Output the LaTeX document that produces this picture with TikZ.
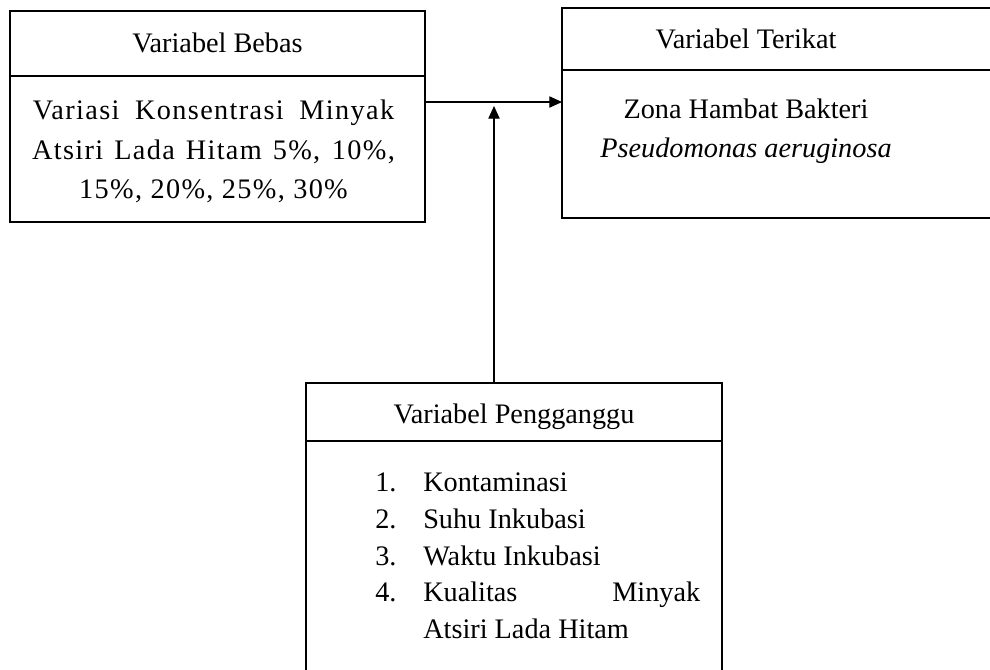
\documentclass[tikz,border=0pt]{standalone}
\usepackage{fontspec}
\setmainfont{Liberation Serif}
\usetikzlibrary{positioning,arrows.meta}

\begin{document}
\begin{tikzpicture}[x=0.75pt,y=-0.75pt,
    varhead/.style={draw,line width=0.8pt,inner sep=0pt,outer sep=0pt,anchor=north west},
    varbody/.style={draw,line width=0.8pt,inner sep=0pt,outer sep=0pt},
    vartext/.style={inner sep=0pt,font=\fontsize{21.2}{29.6}\selectfont},
    listtext/.style={inner sep=0pt,align=left,font=\fontsize{21.2}{27.5}\selectfont},
    arr/.style={line width=0.8pt,-{Triangle[length=9.5pt,width=8.5pt]}}]
  \useasboundingbox (0,0) rectangle (990,669);

  % variabel bebas
  \node[varhead,minimum width=311.25pt,minimum height=48.75pt] (bebasH) at (10,11) {};
  \node[varbody,minimum width=311.25pt,minimum height=109.5pt,below=0pt of bebasH] (bebas) {};
  \node[vartext,anchor=base] (bebasT) at (217.5,52) {Variabel Bebas};
  \node[vartext,anchor=north,align=center,
        font={\fontsize{21.2}{29.6}\selectfont\addfontfeatures{LetterSpace=4.8}}] (bebasI) at (213.5,100)
    {\makebox[271pt][s]{Variasi Konsentrasi Minyak}\\
     \makebox[272pt][s]{Atsiri Lada Hitam 5\%, 10\%,}\\
     15\%, 20\%, 25\%, 30\%};

  % variabel terikat
  \node[varhead,minimum width=330pt,minimum height=46.5pt] (terikatH) at (562,8) {};
  \node[varbody,minimum width=330pt,minimum height=111pt,below=0pt of terikatH] (terikat) {};
  \node[vartext,anchor=base] (terikatT) at (746,48) {Variabel Terikat};
  \node[vartext,anchor=north,align=center,font=\fontsize{21.2}{29.25}\selectfont] (terikatI) at (746,99)
    {Zona Hambat Bakteri\\\textit{Pseudomonas aeruginosa}};

  % variabel pengganggu
  \node[varhead,minimum width=312pt,minimum height=43.5pt] (pengH) at (306,383) {};
  \node[varbody,minimum width=312pt,minimum height=195pt,below=0pt of pengH] (peng) {};
  \node[vartext,anchor=base] (pengT) at (514,423) {Variabel Pengganggu};
  \node[listtext,anchor=north west] (pengI) at (375,473)
    {\makebox[36pt][l]{1.}Kontaminasi\\
     \makebox[36pt][l]{2.}Suhu Inkubasi\\
     \makebox[36pt][l]{3.}Waktu Inkubasi\\
     \makebox[36pt][l]{4.}\makebox[207.75pt][s]{Kualitas Minyak}\\
     \hspace*{36pt}Atsiri Lada Hitam};

  % panah
  \coordinate (hl) at (0,102);
  \coordinate (meet) at (494,106);
  \draw[arr] (bebas.east |- hl) -- (terikat.west |- hl);
  \draw[arr] (pengH.north -| meet) -- (meet);
\end{tikzpicture}
\end{document}
